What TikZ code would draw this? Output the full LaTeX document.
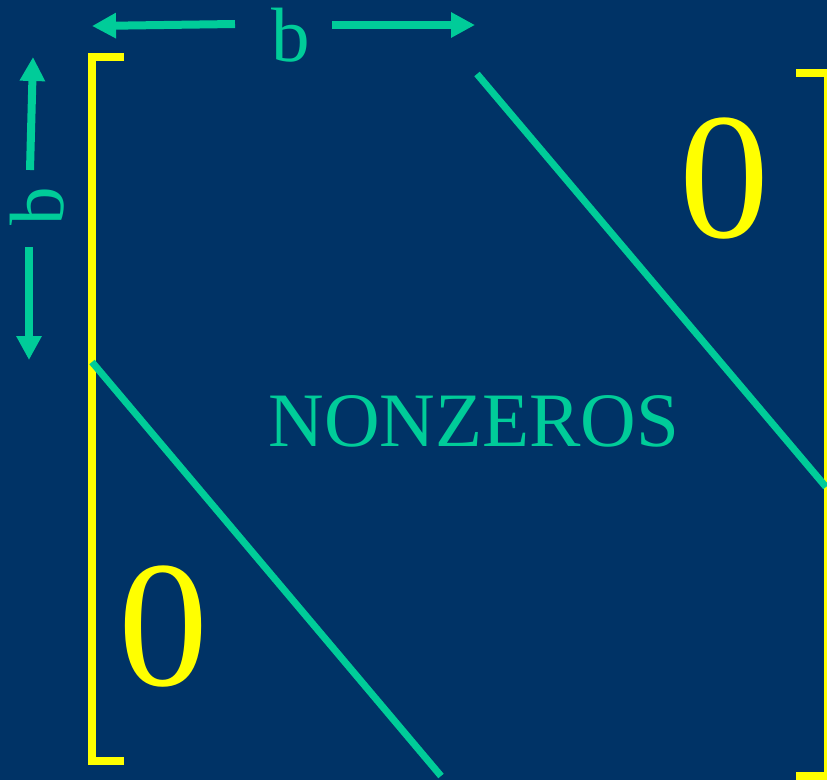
\documentclass[tikz,border=0pt]{standalone}
\usepackage{fontspec}
\setmainfont{Liberation Serif}
\usetikzlibrary{arrows.meta,positioning}
\definecolor{slidenavy}{RGB}{0,51,102}
\definecolor{bandteal}{RGB}{0,204,153}
\definecolor{zeroyellow}{RGB}{255,255,0}
\tikzset{
  bracket/.style={draw=zeroyellow, line width=8pt, line join=miter},
  bandline/.style={draw=bandteal, line width=7pt},
  widtharrow/.style={->, draw=bandteal, line width=8pt},
  widthlabel/.style={text=bandteal, inner sep=0pt, font=\fontsize{77}{80}\selectfont},
  zerolabel/.style={text=zeroyellow, inner sep=0pt, font=\fontsize{180}{180}\selectfont}
}

\begin{document}
\begin{tikzpicture}[x=1pt, y=-1pt, >={Triangle[length=24pt,width=24pt]}]
        % Slide background
        \fill[slidenavy] (0,0) rectangle (827,780);
        \clip (0,0) rectangle (827,780);

        % Matrix brackets
        \draw[bracket] (124,57) -- (92,57) -- (92,761) -- (124,761);
        \draw[bracket] (796,73) -- (828,73) -- (828,776) -- (796,776);

        % Band edges
        \coordinate (upperstart) at (477,74);
        \coordinate (upperend) at (826,487);
        \coordinate (lowerstart) at (92,362);
        \coordinate (lowerend) at (441,776);
        \draw[bandline] (upperstart) -- (upperend);
        \draw[bandline] (lowerstart) -- (lowerend);

        % Labels inside the matrix
        \node[widthlabel] (nonzeros) at (474,421) {NONZEROS};
        \node[zerolabel] (zeroupper) at (724,179) {0};
        \node[zerolabel] (zerolower) at (163,627) {0};

        % Bandwidth along the top
        \node[widthlabel] (btop) at (291,35) {b};
        \coordinate (topltail) at (235,24);
        \coordinate (topltip) at (92,26);
        \coordinate (toprtail) at (332,25);
        \coordinate (toprtip) at (475,25);
        \draw[widtharrow] (topltail) -- (topltip);
        \draw[widtharrow] (toprtail) -- (toprtip);

        % Bandwidth down the side
        \node[widthlabel, rotate=90] (bside) at (37,206) {b};
        \coordinate (sideutail) at (30,170);
        \coordinate (sideutip) at (33,57);
        \coordinate (sidedtail) at (29,247);
        \coordinate (sidedtip) at (29,360);
        \draw[widtharrow] (sideutail) -- (sideutip);
        \draw[widtharrow] (sidedtail) -- (sidedtip);
    \end{tikzpicture}
\end{document}
